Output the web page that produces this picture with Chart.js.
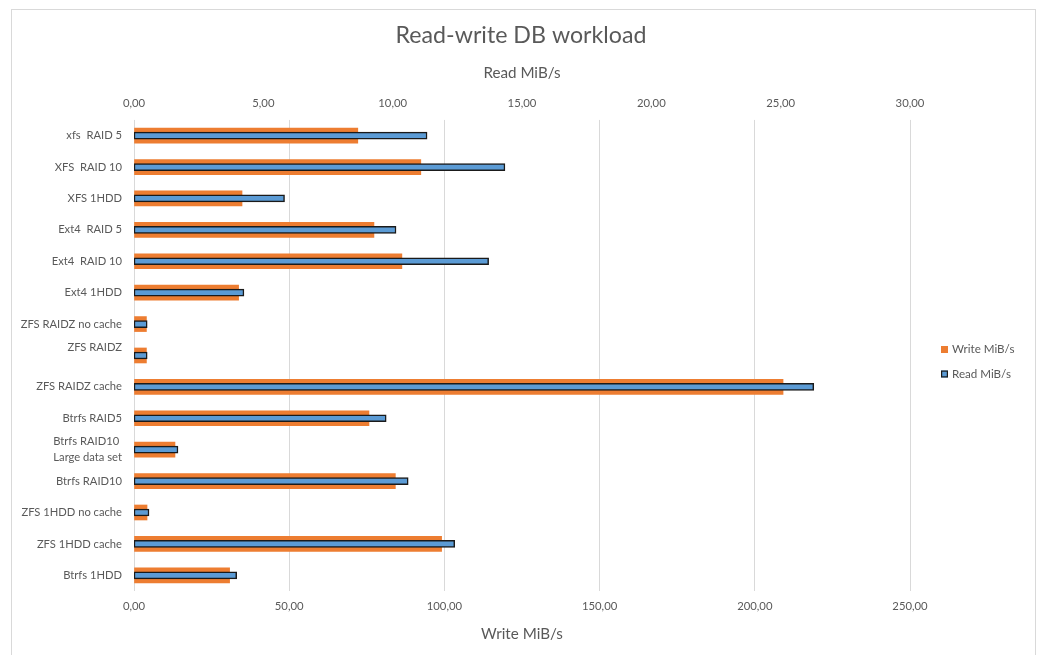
<!DOCTYPE html>
<html>
<head>
<meta charset="utf-8">
<title>Read-write DB workload</title>
<script src="https://cdn.jsdelivr.net/npm/chart.js@4/dist/chart.umd.min.js"></script>
<style>
  html, body { margin: 0; padding: 0; background: #ffffff; }
  canvas { display: block; }
</style>
</head>
<body>
<canvas id="chart" width="1042" height="655"></canvas>
<script>
// Filesystem / storage configurations (top to bottom)
const categories = [
  'xfs  RAID 5',
  'XFS  RAID 10',
  'XFS 1HDD',
  'Ext4  RAID 5',
  'Ext4  RAID 10',
  'Ext4 1HDD',
  'ZFS RAIDZ no cache',
  ['ZFS RAIDZ', ''],
  'ZFS RAIDZ cache',
  'Btrfs RAID5',
  ['Btrfs RAID10 ', 'Large data set'],
  'Btrfs RAID10',
  'ZFS 1HDD no cache',
  'ZFS 1HDD cache',
  'Btrfs 1HDD'
];

// Throughput per configuration
const writeMiBs = [72.1, 92.4, 34.8, 77.3, 86.3, 33.7, 4.0, 4.0, 209.1, 75.7, 13.2, 84.2, 4.2, 99.1, 30.8];
const readMiBs  = [11.33, 14.34, 5.82, 10.13, 13.71, 4.25, 0.51, 0.51, 26.28, 9.75, 1.70, 10.6, 0.58, 12.4, 3.97];

// Axis ticks
const writeTicks = [0, 50, 100, 150, 200, 250];
const readTicks  = [0, 5, 10, 15, 20, 25, 30];

const FONT = 'Lato, "Open Sans", sans-serif';
const TEXT = '#595959';
const fmt = v => Number(v).toFixed(2).replace('.', ',');

// White background and light outer frame
const framePlugin = {
  id: 'frame',
  beforeDraw(chart) {
    const c = chart.ctx;
    c.save();
    c.fillStyle = '#ffffff';
    c.fillRect(0, 0, chart.width, chart.height);
    c.strokeStyle = '#d9d9d9';
    c.lineWidth = 1;
    c.strokeRect(11.5, 9.5, 1024, 700);
    c.restore();
  }
};

// Legend on the right, listing the datasets in order
const sideLegend = {
  id: 'sideLegend',
  afterDraw(chart) {
    const c = chart.ctx;
    const x = 941, y0 = 349.5, gap = 24.5, box = 7;
    c.save();
    c.font = '11.6px ' + FONT;
    c.textBaseline = 'middle';
    c.textAlign = 'left';
    chart.data.datasets.forEach((ds, i) => {
      const y = y0 + i * gap;
      c.fillStyle = ds.backgroundColor;
      c.fillRect(x, y - box / 2, box, box);
      if (ds.borderWidth) {
        c.strokeStyle = ds.borderColor;
        c.lineWidth = 1.2;
        c.strokeRect(x + 0.6, y - box / 2 + 0.6, box - 1.2, box - 1.2);
      }
      c.fillStyle = TEXT;
      c.fillText(ds.label, x + 11, y);
    });
    c.restore();
  }
};

new Chart(document.getElementById('chart'), {
  type: 'bar',
  data: {
    labels: categories,
    datasets: [
      {
        label: 'Write MiB/s',
        data: writeMiBs,
        xAxisID: 'xWrite',
        backgroundColor: '#ED7D31',
        borderWidth: 0,
        barThickness: 15,
        grouped: false,
        order: 1
      },
      {
        label: 'Read MiB/s',
        data: readMiBs,
        xAxisID: 'xRead',
        backgroundColor: '#5B9BD5',
        borderColor: '#1a1a1a',
        borderWidth: 1.5,
        borderSkipped: false,
        barThickness: 7,
        grouped: false,
        order: 0
      }
    ]
  },
  options: {
    indexAxis: 'y',
    responsive: false,
    animation: false,
    layout: { padding: 0 },
    plugins: {
      legend: { display: false },
      tooltip: { enabled: false },
      title: {
        display: true,
        text: 'Read-write DB workload',
        color: TEXT,
        font: { family: FONT, size: 23.2, weight: 'normal', lineHeight: 1.2 },
        padding: { top: 22.1, bottom: 0 }
      }
    },
    scales: {
      y: {
        type: 'category',
        position: 'left',
        offset: true,
        grid: { display: false, drawTicks: false },
        border: { display: false },
        ticks: {
          color: TEXT,
          padding: 12,
          autoSkip: false,
          font: { family: FONT, size: 11.2, lineHeight: 1.43 }
        },
        afterFit(s) { s.width = 134; }
      },
      // empty right-hand band that holds the legend
      legendBand: {
        type: 'category',
        position: 'right',
        grid: { display: false, drawTicks: false },
        border: { display: false },
        ticks: { display: false },
        afterFit(s) { s.width = 132; }
      },
      xRead: {
        type: 'linear',
        position: 'top',
        min: 0,
        max: 30,
        grid: { display: false, drawTicks: false },
        border: { display: false },
        afterBuildTicks(s) { s.ticks = readTicks.map(v => ({ value: v })); },
        ticks: {
          color: TEXT,
          padding: 9.5,
          maxRotation: 0,
          font: { family: FONT, size: 11.3 },
          callback: v => fmt(v)
        },
        title: {
          display: true,
          text: 'Read MiB/s',
          color: TEXT,
          font: { family: FONT, size: 15.2, lineHeight: 1.2 },
          padding: { top: 14, bottom: 0 }
        },
        afterFit(s) { s.height = 70; }
      },
      xWrite: {
        type: 'linear',
        position: 'bottom',
        min: 0,
        max: 250,
        grid: { display: true, color: '#d9d9d9', lineWidth: 1, drawTicks: false },
        border: { display: false },
        afterBuildTicks(s) { s.ticks = writeTicks.map(v => ({ value: v })); },
        ticks: {
          color: TEXT,
          padding: 9,
          maxRotation: 0,
          font: { family: FONT, size: 11.3 },
          callback: v => fmt(v)
        },
        title: {
          display: true,
          text: 'Write MiB/s',
          color: TEXT,
          font: { family: FONT, size: 15.2, lineHeight: 1.2 },
          padding: { top: 0, bottom: 11.6 }
        },
        afterFit(s) { s.height = 64; }
      }
    }
  },
  plugins: [framePlugin, sideLegend]
});
</script>
</body>
</html>
